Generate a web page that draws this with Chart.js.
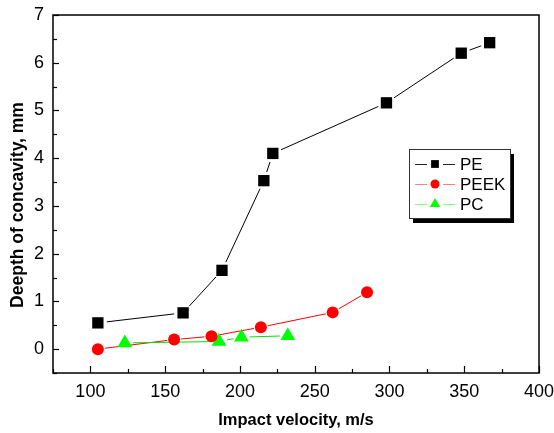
<!DOCTYPE html>
<html>
<head>
<meta charset="utf-8">
<script src="https://cdn.jsdelivr.net/npm/chart.js@4"></script>
<style>
  html, body { margin: 0; padding: 0; background: #fff; }
  #wrap { width: 554px; height: 433px; }
</style>
</head>
<body>
<div id="wrap"><canvas id="grafico" width="554" height="433"></canvas></div>
<script>
// dados
const peVel = [105, 162, 188, 216, 222, 298, 348, 367];
const peDepth = [0.55, 0.76, 1.65, 3.53, 4.1, 5.16, 6.2, 6.42];
const peekVel = [105, 156, 181, 214, 262, 285];
const peekDepth = [0.0, 0.2, 0.27, 0.46, 0.77, 1.19];
const pcVel = [123, 186, 201, 232];
const pcDepth = [0.13, 0.16, 0.25, 0.28];
const seriesNames = ["PE", "PEEK", "PC"];
const tituloY = "Deepth of concavity, mm";

const fonte = 'Arial, "Liberation Sans", sans-serif';

function pares(xs, ys) {
  return xs.map((v, i) => ({ x: v, y: ys[i] }));
}

// moldura + marcas de escala para dentro + título do eixo y
const molduraPlugin = {
  id: "moldura",
  afterDraw(chart) {
    const { ctx, chartArea: a, scales: { x, y } } = chart;
    ctx.save();
    ctx.strokeStyle = "#000";
    ctx.lineWidth = 1.2;
    x.ticks.forEach(t => {
      const px = Math.round(x.getPixelForValue(t.value)) + 0.5;
      const len = t.value % 50 === 0 ? 7 : 4;
      ctx.beginPath(); ctx.moveTo(px, a.bottom); ctx.lineTo(px, a.bottom - len); ctx.stroke();
    });
    y.ticks.forEach(t => {
      const py = Math.round(y.getPixelForValue(t.value)) + 0.5;
      const len = Number.isInteger(t.value) ? 6 : 4;
      ctx.beginPath(); ctx.moveTo(a.left, py); ctx.lineTo(a.left + len, py); ctx.stroke();
    });
    ctx.lineWidth = 1.5;
    ctx.strokeRect(a.left, a.top, a.width, a.height);

    // título y um pouco abaixo do centro, como no original
    ctx.translate(18, (a.top + a.bottom) / 2 + 11);
    ctx.rotate(-Math.PI / 2);
    ctx.fillStyle = "#000";
    ctx.font = "bold 17.5px " + fonte;
    ctx.textAlign = "center";
    ctx.textBaseline = "middle";
    ctx.fillText(tituloY, 0, 0);
    ctx.restore();
  }
};

// linhas entre pontos com pequeno espaço junto aos marcadores
const linhasPlugin = {
  id: "linhas",
  beforeDatasetsDraw(chart) {
    const ctx = chart.ctx;
    ctx.save();
    chart.data.datasets.forEach((ds, i) => {
      const pts = chart.getDatasetMeta(i).data;
      ctx.strokeStyle = ds.linhaCor;
      ctx.lineWidth = 1;
      for (let k = 0; k < pts.length - 1; k++) {
        const p1 = pts[k], p2 = pts[k + 1];
        const dx = p2.x - p1.x, dy = p2.y - p1.y;
        const d = Math.hypot(dx, dy);
        const g = ds.gap;
        if (d <= 2 * g) continue;
        const ux = dx / d, uy = dy / d;
        ctx.beginPath();
        ctx.moveTo(p1.x + ux * g, p1.y + uy * g);
        ctx.lineTo(p2.x - ux * g, p2.y - uy * g);
        ctx.stroke();
      }
    });
    ctx.restore();
  }
};

// legenda com sombra, no estilo do original
const legendaPlugin = {
  id: "legenda",
  afterDraw(chart) {
    const { ctx, chartArea: a } = chart;
    const bx = a.left + 356, by = a.top + 134, bw = 101, bh = 69;
    ctx.save();
    ctx.fillStyle = "#000";
    ctx.fillRect(bx + 4, by + 5, bw, bh);
    ctx.fillStyle = "#fff";
    ctx.fillRect(bx, by, bw, bh);
    ctx.strokeStyle = "#333";
    ctx.lineWidth = 1;
    ctx.strokeRect(bx + 0.5, by + 0.5, bw, bh);
    chart.data.datasets.forEach((ds, i) => {
      const cy = by + 15 + i * 20;
      const mx = bx + 26;
      ctx.strokeStyle = ds.legendaCor;
      ctx.lineWidth = 1;
      ctx.beginPath();
      ctx.moveTo(bx + 6, cy + 0.5); ctx.lineTo(mx - 8, cy + 0.5);
      ctx.moveTo(mx + 8, cy + 0.5); ctx.lineTo(bx + 46, cy + 0.5);
      ctx.stroke();
      ctx.fillStyle = ds.pointBackgroundColor;
      Chart.helpers.drawPoint(ctx, { pointStyle: ds.pointStyle, radius: ds.legendaRaio, borderWidth: 0 }, mx, cy);
      ctx.fillStyle = "#000";
      ctx.font = "17px " + fonte;
      ctx.textBaseline = "middle";
      ctx.fillText(seriesNames[i], bx + 51, cy + 1);
    });
    ctx.restore();
  }
};

new Chart(document.getElementById("grafico"), {
  type: "line",
  data: {
    datasets: [
      {
        label: seriesNames[0],
        data: pares(peVel, peDepth),
        showLine: false,
        pointStyle: "rect",
        pointRadius: 8,
        pointBackgroundColor: "#000",
        pointBorderWidth: 0,
        linhaCor: "#000",
        legendaCor: "#222",
        legendaRaio: 5.5,
        gap: 9
      },
      {
        label: seriesNames[1],
        data: pares(peekVel, peekDepth),
        showLine: false,
        pointStyle: "circle",
        pointRadius: 6,
        pointBackgroundColor: "#ff0000",
        pointBorderWidth: 0,
        linhaCor: "#ff0000",
        legendaCor: "#ff7f7f",
        legendaRaio: 4.5,
        gap: 7
      },
      {
        label: seriesNames[2],
        data: pares(pcVel, pcDepth),
        showLine: false,
        pointStyle: "triangle",
        pointRadius: 8.5,
        pointBackgroundColor: "#00ff00",
        pointBorderWidth: 0,
        linhaCor: "#00e000",
        legendaCor: "#7fff7f",
        legendaRaio: 6,
        gap: 8
      }
    ]
  },
  options: {
    responsive: false,
    animation: false,
    layout: { padding: { left: 0, top: 15, right: 15, bottom: 0 } },
    plugins: { legend: { display: false }, tooltip: { enabled: false } },
    scales: {
      x: {
        type: "linear",
        min: 75,
        max: 400,
        grid: { display: false, drawTicks: false },
        border: { display: false },
        afterFit: s => { s.height = 60; s.paddingLeft = 0; s.paddingRight = 0; },
        ticks: {
          stepSize: 25,
          autoSkip: false,
          maxRotation: 0,
          padding: 8,
          color: "#000",
          font: { family: fonte, size: 18 },
          callback: v => (v % 50 === 0 ? v : "")
        },
        title: {
          display: true,
          text: "Impact velocity, m/s",
          color: "#000",
          font: { family: fonte, size: 16.5, weight: "bold" },
          padding: { top: 0, bottom: 3 }
        }
      },
      y: {
        type: "linear",
        min: -0.5,
        max: 7,
        grid: { display: false, drawTicks: false },
        border: { display: false },
        afterFit: s => { s.width = 53; s.paddingTop = 0; s.paddingBottom = 0; },
        ticks: {
          stepSize: 0.5,
          autoSkip: false,
          padding: 9,
          color: "#000",
          font: { family: fonte, size: 18 },
          callback: v => (Number.isInteger(v) ? v : "")
        }
      }
    }
  },
  plugins: [linhasPlugin, molduraPlugin, legendaPlugin]
});
</script>
</body>
</html>
